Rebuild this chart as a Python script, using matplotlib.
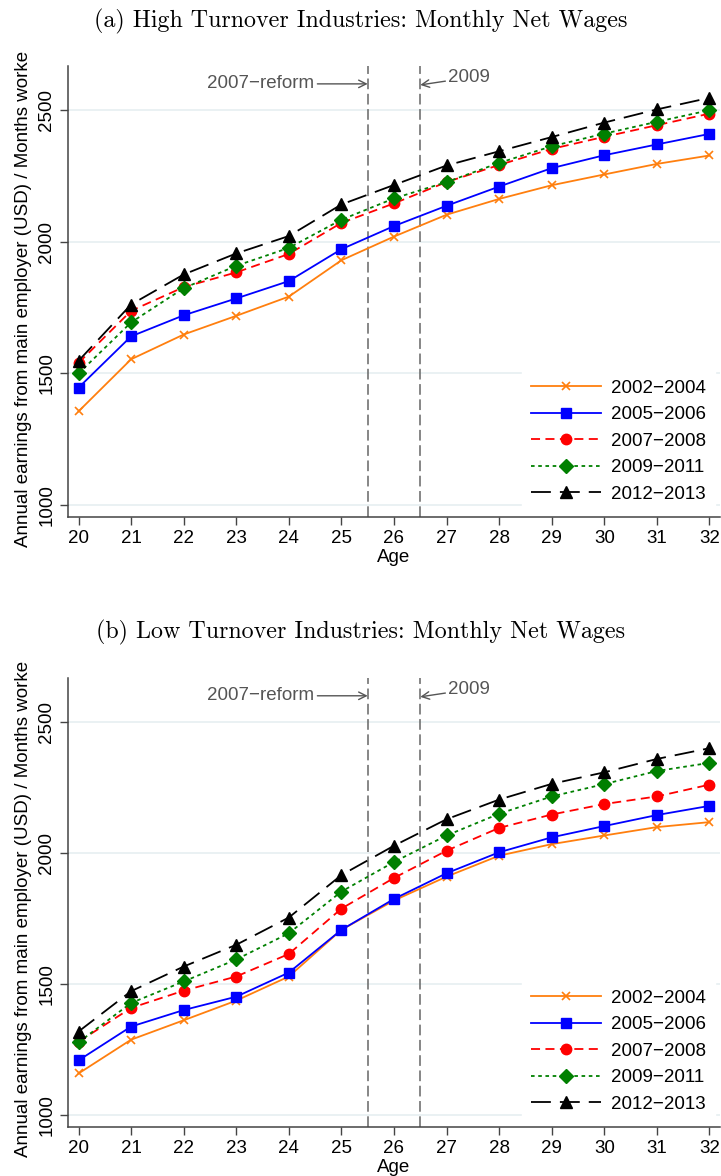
import matplotlib
matplotlib.use('Agg')
import matplotlib.pyplot as plt

# Data
ages = [20, 21, 22, 23, 24, 25, 26, 27, 28, 29, 30, 31, 32]
cohorts = ['2002\u22122004', '2005\u22122006', '2007\u22122008', '2009\u22122011', '2012\u22122013']

## (a) high turnover industries
high_0204 = [1356, 1554, 1648, 1719, 1792, 1930, 2020, 2103, 2163, 2215, 2256, 2296, 2328]
high_0506 = [1446, 1641, 1721, 1785, 1851, 1972, 2060, 2137, 2210, 2280, 2329, 2370, 2410]
high_0708 = [1540, 1738, 1828, 1884, 1954, 2072, 2146, 2227, 2292, 2353, 2399, 2443, 2487]
high_0911 = [1500, 1694, 1824, 1909, 1977, 2084, 2165, 2227, 2300, 2363, 2411, 2456, 2500]
high_1213 = [1548, 1762, 1876, 1956, 2022, 2142, 2216, 2290, 2344, 2398, 2453, 2503, 2547]

## (b) low turnover industries
low_0204 = [1159, 1288, 1362, 1437, 1529, 1707, 1819, 1910, 1990, 2034, 2067, 2099, 2118]
low_0506 = [1209, 1338, 1401, 1452, 1544, 1707, 1825, 1923, 2003, 2060, 2103, 2145, 2180]
low_0708 = [1280, 1409, 1475, 1529, 1615, 1788, 1905, 2009, 2096, 2147, 2187, 2216, 2261]
low_0911 = [1278, 1428, 1510, 1594, 1694, 1853, 1966, 2067, 2150, 2216, 2263, 2313, 2344]
low_1213 = [1319, 1473, 1567, 1650, 1754, 1916, 2028, 2129, 2204, 2264, 2308, 2359, 2400]

yticks = [1000, 1500, 2000, 2500]
reform_lines = [25.5, 26.5]

titles = ['(a) High Turnover Industries: Monthly Net Wages',
          '(b) Low Turnover Industries: Monthly Net Wages']
ylab = 'Annual earnings from main employer (USD) / Months worke'

# line styles per cohort
styles = [
    dict(color='#FF7F0E', ls='-', marker='x', ms=6, mew=1.2),
    dict(color='#0000FF', ls='-', marker='s', ms=7.5),
    dict(color='#FF0000', ls=(0, (5, 3)), marker='o', ms=7.5),
    dict(color='#008000', ls=(0, (2, 2)), marker='D', ms=7),
    dict(color='black', ls=(0, (11, 5)), marker='^', ms=8),
]

plt.rcParams['font.family'] = ['Liberation Sans', 'DejaVu Sans']
fs = 13.5

fig = plt.figure(figsize=(7.21, 11.76), dpi=100)
ax_top = fig.add_axes([0.0943, 0.5604, 0.9043, 0.3835])
ax_bot = fig.add_axes([0.0943, 0.0417, 0.9043, 0.3818])

panels = [
    (ax_top, [high_0204, high_0506, high_0708, high_0911, high_1213]),
    (ax_bot, [low_0204, low_0506, low_0708, low_0911, low_1213]),
]

grey = '#555555'

for ax, series in panels:
    for yy in yticks:
        ax.axhline(yy, color='#E8F0F2', lw=1.3, zorder=0)
    for xv in reform_lines:
        ax.axvline(xv, color='#666666', lw=1.1, ls=(0, (7, 3)), zorder=1)
    for vals, lab, st in zip(series, cohorts, styles):
        ax.plot(ages, vals, label=lab, lw=1.3, zorder=3, **st)

    ax.set_xlim(19.8, 32.2)
    ax.set_ylim(955, 2668)
    ax.set_xticks(ages)
    ax.set_yticks(yticks)
    ax.tick_params(axis='both', labelsize=fs, length=6, width=1, color='#444444',
                   direction='out')
    ax.tick_params(axis='y', labelrotation=90, pad=3)
    for t in ax.get_yticklabels():
        t.set_va('center')
    for side in ['top', 'right']:
        ax.spines[side].set_visible(False)
    for side in ['left', 'bottom']:
        ax.spines[side].set_color('#444444')
        ax.spines[side].set_linewidth(1.1)
    ax.set_xlabel('Age', fontsize=fs, labelpad=1)

    ax.annotate('2007\u2212reform', xy=(25.5, 2600), xytext=(24.49, 2600),
                ha='right', va='center', fontsize=fs, color=grey,
                arrowprops=dict(arrowstyle='->', color=grey, lw=1,
                                shrinkA=0, shrinkB=0))
    ax.annotate('2009', xy=(26.5, 2596), xytext=(27.03, 2624),
                ha='left', va='center', fontsize=fs, color=grey,
                arrowprops=dict(arrowstyle='->', color=grey, lw=1,
                                shrinkA=0, shrinkB=0))

    leg = ax.legend(loc='lower right', bbox_to_anchor=(1.0, 0.0), fontsize=fs,
                    handlelength=3.7, handletextpad=0.55, labelspacing=0.5,
                    borderpad=0.5, borderaxespad=0.25, frameon=True,
                    fancybox=False)
    leg.get_frame().set_facecolor('white')
    leg.get_frame().set_edgecolor('white')
    leg.get_frame().set_alpha(1)

# titles and clipped y labels
fig.text(0.5, 1 - 21 / 1176, titles[0], family='cmr10', fontsize=17.3,
         ha='center', va='center')
fig.text(0.5, 1 - 632 / 1176, titles[1], family='cmr10', fontsize=17.3,
         ha='center', va='center')
fig.text(24 / 721, 1 - 547 / 1176, ylab, rotation=90, fontsize=fs,
         ha='center', va='bottom')
fig.text(24 / 721, 1 - 1157 / 1176, ylab, rotation=90, fontsize=fs,
         ha='center', va='bottom')

fig.savefig('out.png', dpi=100)
